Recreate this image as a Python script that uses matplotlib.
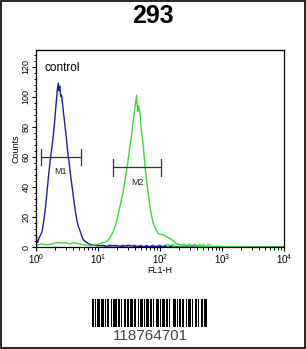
import matplotlib

matplotlib.use('Agg')
import matplotlib.pyplot as plt
from matplotlib.ticker import FixedLocator, MultipleLocator, NullFormatter, LogLocator
from matplotlib.patches import Rectangle

plt.rcParams['font.family'] = ['Liberation Sans', 'DejaVu Sans']
plt.rcParams['mathtext.fontset'] = 'custom'
plt.rcParams['mathtext.rm'] = 'Liberation Sans'

# histogram data (FL1-H, counts)
control_x = [1.00, 1.03, 1.07, 1.12, 1.18, 1.25, 1.33, 1.42, 1.50, 1.60, 1.70, 1.80,
             1.90, 2.00, 2.10, 2.20, 2.28, 2.35, 2.42, 2.50, 2.58, 2.68, 2.80, 2.95,
             3.10, 3.25, 3.45, 3.65, 3.85, 4.05, 4.30, 4.55, 4.80, 5.10, 5.40, 5.75,
             6.10, 6.60, 7.20, 8.0, 9.0, 10.0, 12.0, 14.0, 16.0, 20.0, 25.0, 30.0,
             40.0, 60.0, 100.0, 150.0, 200.0, 1000.0, 10000.0]
control_y = [11, 4, 3, 6, 8, 10, 17, 26, 36, 48, 58, 66,
             74, 84, 94, 104, 109, 104, 107, 100, 101, 95, 88, 80,
             72, 63, 55, 46, 39, 32, 24, 18, 14, 11, 8, 5,
             4, 3, 2, 1.5, 1, 0.8, 1, 0.5, 1, 0.8, 0.5, 1,
             0.5, 0.3, 0.5, 0.3, 0, 0, 0]

sample_x = [1.0, 1.2, 1.5, 1.8, 2.2, 2.6, 3.0, 3.5, 4.0, 5.0, 6.0, 7.0, 8.0, 9.0,
            10.5, 12.0, 13.0, 14.0, 15.5, 17.0, 18.8, 20.5, 22.6, 25.0, 27.2, 30.0,
            32.8, 35.0, 37.0, 39.5, 42.0, 43.5, 45.0, 47.5, 50.0, 53.7, 57.0, 61.0,
            65.0, 69.0, 73.0, 77.6, 85.0, 93.0, 100.0, 112.0, 125.0, 145.0, 165.0,
            186.0, 220.0, 270.0, 350.0, 500.0, 700.0, 1000.0, 10000.0]
sample_y = [1, 2, 1.5, 2, 3, 2.5, 3, 2, 3, 2, 1.5, 1, 1, 1.5,
            2, 3, 3, 4, 6, 9, 13, 19, 27, 35, 44, 55,
            67, 75, 84, 93, 101, 90, 94, 89, 78, 67, 55, 44,
            35, 27, 21, 16, 12, 9, 8.5, 8, 7, 5.6, 4,
            2, 1.5, 1, 1, 0.5, 0.5, 0.2, 0]

# little markers sitting on the baseline
control_dots = [12, 15, 19, 24, 30, 38, 48, 60, 75, 95, 120, 150]
sample_dots = [130, 160, 200, 240, 290, 350, 420, 500, 600]

gates = ['M1', 'M2']
gate_lo = [1.19, 17.3]
gate_hi = [5.3, 105.0]
gate_level = [60, 53]

yticks = [0, 20, 40, 60, 80, 100, 120]
xticks = [1, 10, 100, 1000, 10000]
xtick_labels = ['$10^0$', '$10^1$', '$10^2$', '$10^3$', '$10^4$']

barcode_text = '118764701'
# bar / space widths, alternating, starting with a bar
barcode_widths = [2, 1, 1, 1, 2, 1, 3, 1, 1, 1, 2, 2, 1, 1, 3, 1, 2, 1,
                  1, 2, 2, 1, 1, 1, 3, 1, 2, 2, 1, 1, 2, 1, 1, 1, 3, 1,
                  2, 1, 1, 2, 2, 1, 1, 1, 3, 1, 2, 1, 1, 2, 3, 1, 1, 1,
                  2, 1, 2, 1, 1, 1, 3, 1, 1, 2, 2, 1, 1, 1, 2, 1, 3]

fig = plt.figure(figsize=(3.06, 3.49), dpi=100)

# outer frame
fig.patches.append(Rectangle((0.004, 0.003), 0.992, 0.993, transform=fig.transFigure,
                             fill=False, edgecolor='black', linewidth=1.2))

fig.text(0.5, 0.955, '293', ha='center', va='center', fontsize=18, fontweight='bold')

ax = fig.add_axes([36 / 306, 102 / 349, 248 / 306, 197 / 349])
ax.plot(control_x, control_y, color='#1c1ca6', linewidth=1.0)
ax.plot(sample_x, sample_y, color='#3ad83a', linewidth=1.0)
ax.plot(control_dots, [0.8] * len(control_dots), 'o', mfc='none', mec='#1c1ca6', ms=2, mew=0.6)
ax.plot(sample_dots, [1.0] * len(sample_dots), 'o', mfc='none', mec='#3ad83a', ms=2, mew=0.6)

ax.set_xscale('log')
ax.set_xlim(1, 10000)
ax.set_ylim(0, 131)

for name, lo, hi, lev in zip(gates, gate_lo, gate_hi, gate_level):
    ax.plot([lo, hi], [lev, lev], color='#333333', linewidth=0.9)
    ax.plot([lo, lo], [lev - 5.5, lev + 5.5], color='#333333', linewidth=0.9)
    ax.plot([hi, hi], [lev - 5.5, lev + 5.5], color='#333333', linewidth=0.9)
    mid = (lo * hi) ** 0.5
    ax.text(mid, lev - 10, name, ha='center', va='center', fontsize=6.5, color='#222222')

ax.text(1.35, 119, 'control', ha='left', va='center', fontsize=8.5)

ax.yaxis.set_major_locator(FixedLocator(yticks))
ax.yaxis.set_minor_locator(MultipleLocator(4))
ax.set_yticklabels([str(v) for v in yticks], rotation=90, va='center', fontsize=6.5)
ax.xaxis.set_major_locator(FixedLocator(xticks))
ax.xaxis.set_minor_locator(LogLocator(base=10, subs=range(2, 10)))
ax.xaxis.set_minor_formatter(NullFormatter())
ax.set_xticklabels(xtick_labels, fontsize=7)
ax.tick_params(axis='both', which='major', direction='out', length=3, width=0.8, pad=1)
ax.tick_params(axis='both', which='minor', direction='out', length=1.8, width=0.7)
for s in ax.spines.values():
    s.set_linewidth(0.9)

ax.set_xlabel('FL1-H', fontsize=6.5, labelpad=0)
ax.set_ylabel('Counts', fontsize=6.5, labelpad=1)

# barcode
bx = fig.add_axes([92 / 306, 22 / 349, 115 / 306, 28 / 349])
pos = 0
for i, w in enumerate(barcode_widths):
    if i % 2 == 0:
        bx.bar(pos, 1, width=w, align='edge', color='black', linewidth=0)
    pos += w
bx.set_xlim(0, pos)
bx.set_ylim(0, 1)
bx.axis('off')

fig.text(150 / 306, 1 - 336 / 349, barcode_text, ha='center', va='center',
         fontsize=11, color='#444444')

fig.savefig('out.png', dpi=100)
